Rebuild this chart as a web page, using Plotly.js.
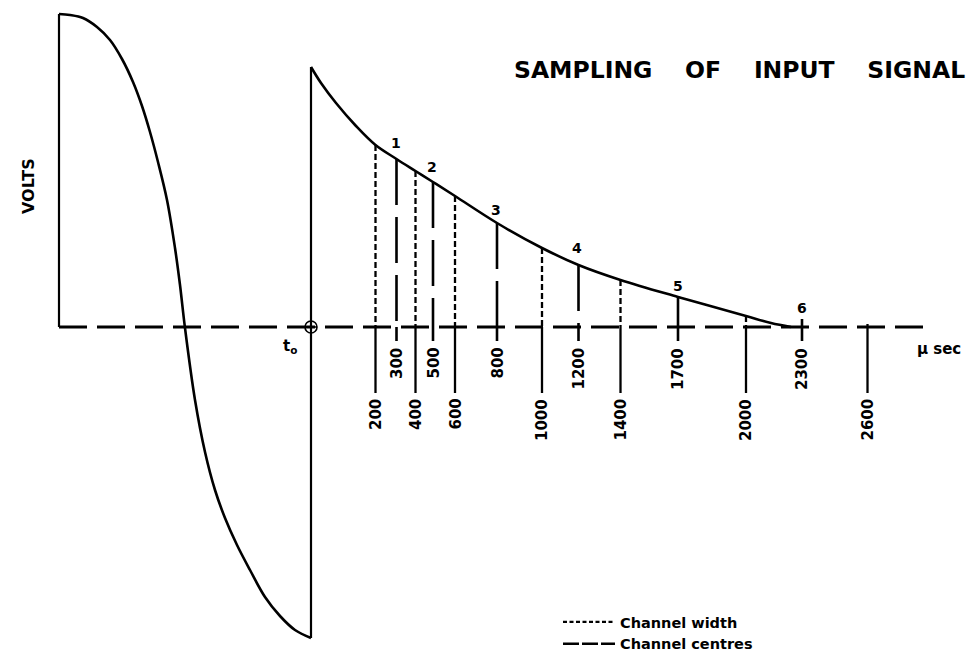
<!DOCTYPE html>
<html>
<head>
<meta charset="utf-8">
<script src="https://cdn.plot.ly/plotly-3.0.1.min.js"></script>
<style>html,body{margin:0;padding:0;background:#fff;}#chart{width:973px;height:660px;}</style>
</head>
<body>
<div id="chart"></div>
<script>
// ---- data (x: drawing units from t0, y: volts, arbitrary units) ----
const leftPulseX = [-2.52, -2.41, -2.28, -2.14, -2.01, -1.89, -1.78, -1.69, -1.61, -1.53, -1.44, -1.36, -1.31, -1.26,
                    -1.16, -1.06, -0.96, -0.86, -0.74, -0.61, -0.46, -0.31, -0.16, 0];
const leftPulseY = [3.13, 3.12, 3.09, 3.00, 2.87, 2.68, 2.45, 2.21, 1.95, 1.65, 1.27, 0.79, 0.42, -0.01,
                    -0.73, -1.25, -1.63, -1.91, -2.18, -2.43, -2.70, -2.89, -3.03, -3.11];
const pulseStartX = -2.52;
const pulseTop = 3.13;
const pulseBottom = -3.11;

const decayX = [0, 0.10, 0.25, 0.45, 0.645, 0.855, 1.045, 1.22, 1.44, 1.86, 2.31, 2.675, 3.095, 3.67, 4.35, 4.6, 4.8];
const decayY = [2.60, 2.44, 2.24, 2.01, 1.82, 1.68, 1.56, 1.45, 1.31, 1.04, 0.79, 0.62, 0.47, 0.30, 0.11, 0.04, 0.0];

const baselineX = [-2.52, 6.21];

// channel boundaries (width) and centres, in microseconds, with drawn position and height
const channelTimes  = [200, 300, 400, 500, 600, 800, 1000, 1200, 1400, 1700, 2000, 2300, 2600];
const channelKind   = ['w', 'c', 'w', 'c', 'w', 'c', 'w', 'c', 'w', 'c', 'w', 'c', 'w'];
const channelPos    = [0.645, 0.855, 1.045, 1.22, 1.44, 1.86, 2.31, 2.675, 3.095, 3.67, 4.35, 4.91, 5.565];
const channelHeight = [1.82, 1.68, 1.56, 1.45, 1.31, 1.04, 0.79, 0.62, 0.47, 0.30, 0.11, 0.08, 0.03];

const channelNumbers = ['1', '2', '3', '4', '5', '6'];
const numberX = [0.85, 1.21, 1.85, 2.66, 3.67, 4.91];
const numberY = [1.84, 1.60, 1.17, 0.79, 0.41, 0.19];

const widthDrop = -0.66;   // solid drop below baseline for channel-width marks
const centreDrop = -0.14;  // short tick below baseline for channel centres
const widthLabelTop = -0.70;
const centreLabelTop = -0.19;

// ---- build traces ----
const K = '#000';
function segs(xs, y0s, y1s) {
  const X = [], Y = [];
  xs.forEach((x, i) => { X.push(x, x, null); Y.push(y0s[i], y1s[i], null); });
  return {X, Y};
}
const wIdx = channelKind.map((k, i) => k === 'w' ? i : -1).filter(i => i >= 0);
const cIdx = channelKind.map((k, i) => k === 'c' ? i : -1).filter(i => i >= 0);

const wUp = segs(wIdx.map(i => channelPos[i]), wIdx.map(i => channelHeight[i]), wIdx.map(() => 0));
const wDown = segs(wIdx.map(i => channelPos[i]), wIdx.map(() => 0), wIdx.map(() => widthDrop));
const cUp = segs(cIdx.map(i => channelPos[i]), cIdx.map(i => channelHeight[i]), cIdx.map(() => 0));
const cDown = segs(cIdx.map(i => channelPos[i]), cIdx.map(() => 0), cIdx.map(() => centreDrop));

const traces = [
  {x: wUp.X, y: wUp.Y, mode: 'lines', name: 'Channel width', legendgroup: 'w', showlegend: false, line: {color: K, width: 2.3, dash: '6px,3px'}, hoverinfo: 'skip'},
  {x: cUp.X, y: cUp.Y, mode: 'lines', name: 'Channel centres', legendgroup: 'c', showlegend: false, line: {color: K, width: 2.6, dash: '46px,12px'}, hoverinfo: 'skip'},
  {x: wDown.X, y: wDown.Y, mode: 'lines', showlegend: false, line: {color: K, width: 2.3}, hoverinfo: 'skip'},
  {x: cDown.X, y: cDown.Y, mode: 'lines', showlegend: false, line: {color: K, width: 2.6}, hoverinfo: 'skip'},
  // baseline
  {x: baselineX, y: [0, 0], mode: 'lines', showlegend: false, line: {color: K, width: 3, dash: '28px,10px'}, hoverinfo: 'skip'},
  // left pulse
  {x: [pulseStartX, pulseStartX], y: [0, pulseTop], mode: 'lines', showlegend: false, line: {color: K, width: 2.2}, hoverinfo: 'skip'},
  {x: leftPulseX, y: leftPulseY, mode: 'lines', showlegend: false, line: {color: K, width: 2.6, shape: 'spline', smoothing: 1}, hoverinfo: 'skip'},
  // t0 vertical
  {x: [0, 0], y: [pulseBottom, decayY[0]], mode: 'lines', showlegend: false, line: {color: K, width: 2.2}, hoverinfo: 'skip'},
  // decay
  {x: decayX, y: decayY, mode: 'lines', showlegend: false, line: {color: K, width: 2.6, shape: 'spline', smoothing: 1}, hoverinfo: 'skip'},
  // t0 marker
  {x: [0], y: [0], mode: 'markers', showlegend: false, marker: {symbol: 'circle-cross-open', size: 12, color: K, line: {width: 1.6, color: K}}, hoverinfo: 'skip'},
  // legend keys
  {x: [null], y: [null], mode: 'lines', name: 'Channel width', legendgroup: 'w', line: {color: K, width: 2.3, dash: '4px,2.5px'}, hoverinfo: 'skip'},
  {x: [null], y: [null], mode: 'lines', name: 'Channel centres', legendgroup: 'c', line: {color: K, width: 2.6, dash: '16px,3px'}, hoverinfo: 'skip'}
];

const lblFont = {family: 'DejaVu Sans', size: 15, color: K, weight: 700};
const annotations = [];
channelTimes.forEach((t, i) => {
  annotations.push({
    x: channelPos[i], y: channelKind[i] === 'w' ? widthLabelTop : centreLabelTop,
    xref: 'x', yref: 'y', text: String(t), showarrow: false, textangle: -90,
    xanchor: 'center', yanchor: 'top', font: lblFont
  });
});
channelNumbers.forEach((n, i) => {
  annotations.push({x: numberX[i], y: numberY[i], xref: 'x', yref: 'y', text: n, showarrow: false,
    xanchor: 'center', yanchor: 'middle', font: {family: 'DejaVu Sans', size: 14, color: K, weight: 700}});
});
annotations.push({x: -0.21, y: -0.19, xref: 'x', yref: 'y', text: 't<sub>o</sub>', showarrow: false,
  xanchor: 'center', yanchor: 'middle', font: {family: 'DejaVu Sans', size: 15, color: K, weight: 700}});
annotations.push({x: 6.28, y: -0.22, xref: 'x', yref: 'y', text: 'µ sec', showarrow: false,
  xanchor: 'center', yanchor: 'middle', font: {family: 'DejaVu Sans', size: 15, color: K, weight: 700}});
annotations.push({x: -2.83, y: 1.41, xref: 'x', yref: 'y', text: 'VOLTS', showarrow: false, textangle: -90,
  xanchor: 'center', yanchor: 'middle', font: {family: 'DejaVu Sans', size: 16, color: K, weight: 700}});

const NB = '\u00a0\u00a0\u00a0\u00a0';
const layout = {
  width: 973, height: 660,
  margin: {l: 0, r: 0, t: 0, b: 0},
  paper_bgcolor: '#fff', plot_bgcolor: '#fff',
  title: {text: 'SAMPLING' + NB + 'OF' + NB + 'INPUT' + NB + 'SIGNAL', x: 514 / 973, xanchor: 'left', xref: 'paper',
    y: 1 - 70 / 660, yanchor: 'middle', yref: 'container',
    font: {family: 'DejaVu Sans', size: 23.5, color: K, weight: 700}},
  xaxis: {visible: false, range: [-3.11, 6.62], fixedrange: true},
  yaxis: {visible: false, range: [-3.33, 3.27], fixedrange: true},
  showlegend: true,
  legend: {x: 558 / 973, y: 1 - 606 / 660, xanchor: 'left', yanchor: 'top', bgcolor: 'rgba(0,0,0,0)',
    font: {family: 'DejaVu Sans', size: 14.5, color: K, weight: 700}, itemwidth: 52, tracegroupgap: 0,
    traceorder: 'normal'},
  annotations: annotations
};
Plotly.newPlot('chart', traces, layout, {displayModeBar: false, staticPlot: true});
</script>
</body>
</html>
